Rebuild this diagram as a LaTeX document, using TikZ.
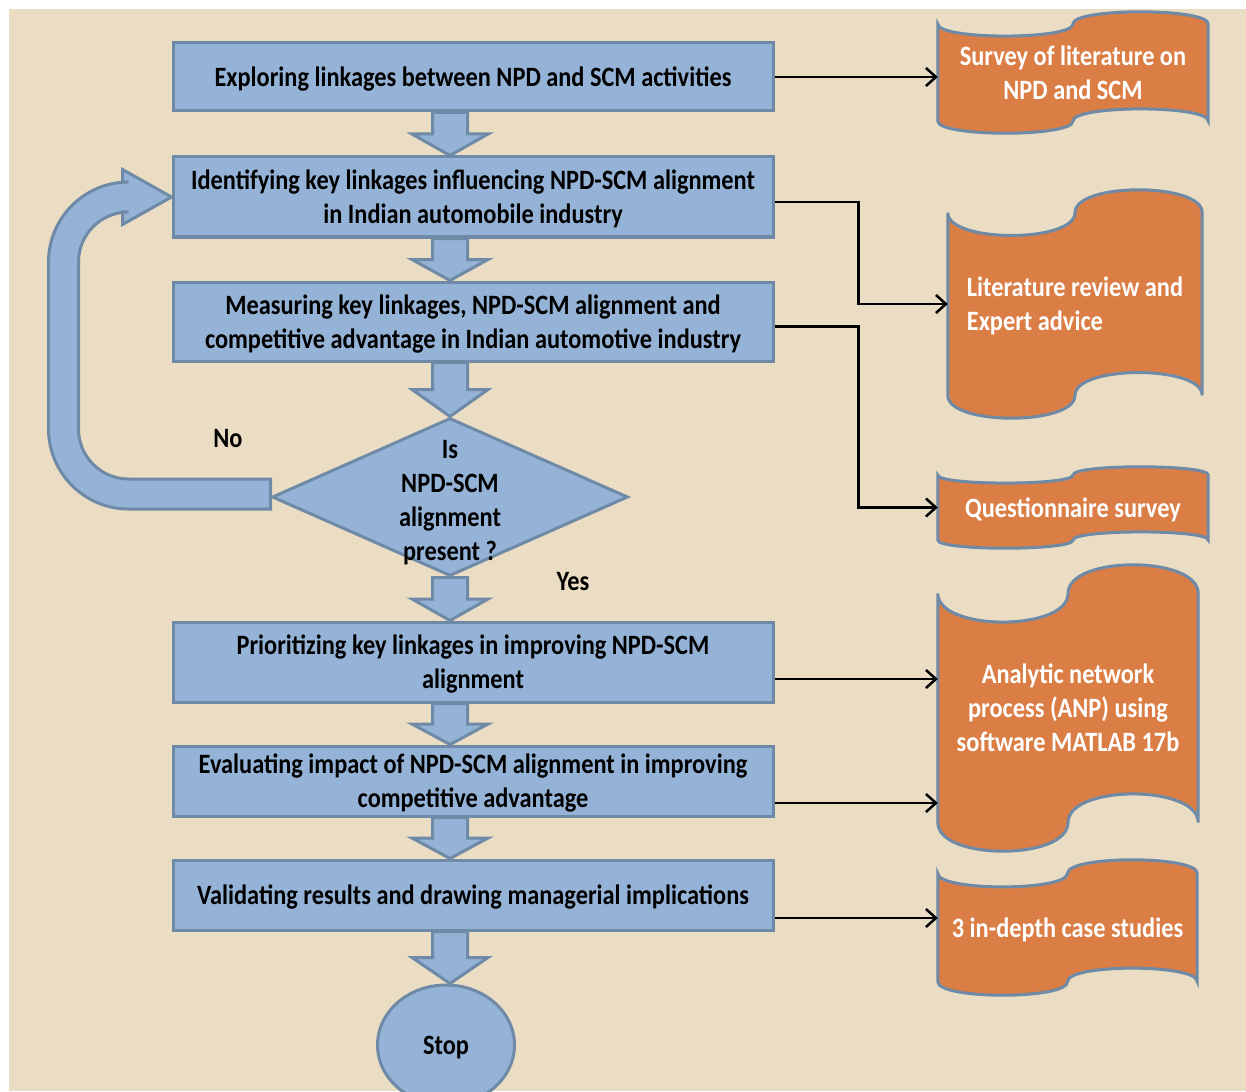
\documentclass[tikz,border=0pt]{standalone}
\usepackage{fontspec}
\setmainfont{Carlito}[FakeStretch=0.87]
\usetikzlibrary{shapes.geometric,arrows.meta,calc}

\definecolor{paper}{HTML}{EADDC3}
\definecolor{stepblue}{HTML}{95B3D7}
\definecolor{stepline}{HTML}{6F8AA6}
\definecolor{tapeorange}{HTML}{DB7E45}

\pgfdeclarelayer{back}
\pgfdeclarelayer{shapes}
\pgfsetlayers{back,shapes,main}

\tikzset{
  stepbox/.style={rectangle, draw=stepline, fill=stepblue, line width=3pt, minimum width=600pt, align=center, inner sep=0pt},
  tape/.style={inner sep=0pt, align=center, text=white},
  tapefill/.style={draw=stepline, fill=tapeorange, line width=3pt},
  blockarrow/.style={draw=stepline, fill=stepblue, line width=3pt, line join=miter},
  link/.style={line width=2.5pt, -{Straight Barb[length=10pt,width=18pt]}},
}

% punched tape outline round a named node
\newcommand\tapeoutline[1]{%
  \begin{pgfonlayer}{shapes}
  \path[tapefill] let \p1=(#1.north west), \p2=(#1.south east),
      \n1={(\y1-\y2)/10}, \n2={(\y1-\y2)*2/15}, \n3={(\x1+\x2)/2} in
    (\x1,\y1-\n1) .. controls (\x1,\y1-\n1-\n2) and (\n3,\y1-\n1-\n2) .. (\n3,\y1-\n1)
    .. controls (\n3,\y1-\n1+\n2) and (\x2,\y1-\n1+\n2) .. (\x2,\y1-\n1)
    -- (\x2,\y2+\n1)
    .. controls (\x2,\y2+\n1+\n2) and (\n3,\y2+\n1+\n2) .. (\n3,\y2+\n1)
    .. controls (\n3,\y2+\n1-\n2) and (\x1,\y2+\n1-\n2) .. (\x1,\y2+\n1) -- cycle;
  \end{pgfonlayer}}

% fat down arrow between two points
\newcommand\blockdown[2]{%
  \begin{pgfonlayer}{shapes}
  \path[blockarrow] let \p1=(#1), \p2=(#2), \n1={(\y1+\y2)/2} in
    (\x1-17.5pt,\y1) -- (\x1-17.5pt,\n1) -- (\x1-38pt,\n1) -- (\x1,\y2)
    -- (\x1+38pt,\n1) -- (\x1+17.5pt,\n1) -- (\x1+17.5pt,\y1) -- cycle;
  \end{pgfonlayer}}

\begin{document}
\begin{tikzpicture}[x=1pt, y=-1pt, font=\bfseries\fontsize{28}{34}\selectfont,
    every node/.append style={text depth=0pt}]
    \useasboundingbox (0,0) rectangle (1246,1091);
    \begin{pgfonlayer}{back}
      \fill[white] (0,0) rectangle (1246,1091);
      \fill[paper] (9,9) rectangle (1246,1091);
    \end{pgfonlayer}

    % steps
    \node[stepbox, minimum height=68pt] (explore) at (473,77) {Exploring linkages between NPD and SCM activities};
    \node[stepbox, minimum height=80pt] (identify) at (473,197) {Identifying key linkages influencing NPD-SCM alignment\\in Indian automobile industry};
    \node[stepbox, minimum height=79pt] (measure) at (473,321.5) {Measuring key linkages, NPD-SCM alignment and\\competitive advantage in Indian automotive industry};
    \node[diamond, draw=stepline, fill=stepblue, line width=3pt, inner sep=0pt, minimum width=356pt, minimum height=158pt,
          label={[name=checktext, align=center, yshift=-3pt]center:Is\\NPD-SCM\\alignment\\present ?}] (check) at (450,497) {};
    \node[stepbox, minimum height=80pt] (prioritize) at (473,662) {Prioritizing key linkages in improving NPD-SCM\\alignment};
    \node[stepbox, minimum height=70pt] (evaluate) at (473,781) {Evaluating impact of NPD-SCM alignment in improving\\competitive advantage};
    \node[stepbox, minimum height=70pt] (validate) at (473,895) {Validating results and drawing managerial implications};
    \node[ellipse, draw=stepline, fill=stepblue, line width=3pt, minimum width=137pt, minimum height=120pt] (stop) at (446,1045) {Stop};

    \node (no) at (228,438) {No};
    \node (yes) at (573,581) {Yes};

    % methods
    \node[tape, minimum width=270pt, minimum height=121pt] (survey) at (1073,72.5) {Survey of literature on\\NPD and SCM};
    \tapeoutline{survey}
    \node[tape, align=left, minimum width=254pt, minimum height=228pt] (litrev) at (1075,304) {Literature review and\\Expert advice};
    \tapeoutline{litrev}
    \node[tape, minimum width=270pt, minimum height=81pt] (quest) at (1073,507.5) {Questionnaire survey};
    \tapeoutline{quest}
    \node[tape, minimum width=260pt, minimum height=286pt] (anp) at (1068,708) {Analytic network\\process (ANP) using\\software MATLAB 17b};
    \tapeoutline{anp}
    \node[tape, minimum width=259pt, minimum height=135pt] (cases) at (1067.5,927.5) {3 in-depth case studies};
    \tapeoutline{cases}

    % flow
    \blockdown{explore.south -| check.north}{identify.north -| check.north}
    \blockdown{identify.south -| check.north}{measure.north -| check.north}
    \blockdown{measure.south -| check.north}{check.north}
    \blockdown{check.south}{prioritize.north -| check.north}
    \blockdown{prioritize.south -| check.north}{evaluate.north -| check.north}
    \blockdown{evaluate.south -| check.north}{validate.north -| check.north}
    \blockdown{validate.south -| check.north}{stop.north}

    % loop back when no
    \begin{pgfonlayer}{shapes}
    \path[blockarrow] let \p1=([yshift=3pt]check.west), \p2=(identify.west), \n1={\x2-108pt} in
      (\x1,\y1-15pt) -- (\n1+65pt,\y1-15pt)
      .. controls (\n1+21pt,\y1-15pt) and (\n1-15pt,\y1+21pt) .. (\n1-15pt,\y1+65pt)
      -- (\n1-15pt,\y2-65pt)
      .. controls (\n1-15pt,\y2-21pt) and (\n1+21pt,\y2+15pt) .. (\n1+65pt,\y2+15pt)
      -- (\x2-49pt,\y2+15pt) -- (\x2-49pt,\y2+27.5pt) -- (\x2,\y2)
      -- (\x2-49pt,\y2-27.5pt) -- (\x2-49pt,\y2-15pt) -- (\n1+65pt,\y2-15pt)
      .. controls (\n1+37.4pt,\y2-15pt) and (\n1+15pt,\y2-37.4pt) .. (\n1+15pt,\y2-65pt)
      -- (\n1+15pt,\y1+65pt)
      .. controls (\n1+15pt,\y1+37.4pt) and (\n1+37.4pt,\y1+15pt) .. (\n1+65pt,\y1+15pt)
      -- (\x1,\y1+15pt) -- cycle;
    \end{pgfonlayer}

    % links to methods
    \draw[link] (explore.east) -- (explore.east -| survey.west);
    \draw[link] ([yshift=-5pt]identify.east) -- ++(84,0) |- (litrev.west);
    \draw[link] ([yshift=-5pt]measure.east) -- ++(84,0) |- (quest.west);
    \draw[link] ([yshift=-17pt]prioritize.east) -- ([yshift=-17pt]prioritize.east -| anp.west);
    \draw[link] ([yshift=-22pt]evaluate.east) -- ([yshift=-22pt]evaluate.east -| anp.west);
    \draw[link] ([yshift=-23pt]validate.east) -- ([yshift=-23pt]validate.east -| cases.west);
\end{tikzpicture}
\end{document}
